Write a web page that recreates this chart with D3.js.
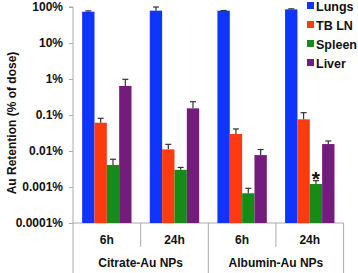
<!DOCTYPE html>
<html>
<head>
<meta charset="utf-8">
<script src="https://cdn.jsdelivr.net/npm/d3@7"></script>
<style>
  body { margin: 0; background: #fff; }
  text { font-family: Arial, "Liberation Sans", sans-serif; font-weight: bold; fill: #111; }
</style>
</head>
<body>
<svg id="chart" width="358" height="273"></svg>
<script>
const groups = ['Citrate 6h', 'Citrate 24h', 'Albumin 6h', 'Albumin 24h']
const timeLabels = ['6h', '24h', '6h', '24h']
const particleLabels = ['Citrate-Au NPs', 'Albumin-Au NPs']
const series = ['Lungs', 'TB LN', 'Spleen', 'Liver']
const colors = ['#0f35fb', '#fe3a10', '#178b17', '#741c7c']

// % of dose, per group, in series order
const lungs = [74, 79, 79, 86]
const tbln = [0.061, 0.0111, 0.0297, 0.076]
const spleen = [0.0041, 0.0030, 0.00067, 0.00121]
const liver = [0.64, 0.153, 0.0077, 0.0156]
// upper end of error bars
const lungsErr = [78, 100, 80, 89]
const tblnErr = [0.081, 0.0153, 0.041, 0.116]
const spleenErr = [0.0059, 0.0035, 0.00092, 0.0015]
const liverErr = [0.98, 0.234, 0.011, 0.019]

const yTicks = [100, 10, 1, 0.1, 0.01, 0.001, 0.0001]
const yTickLabels = ['100%', '10%', '1%', '0.1%', '0.01%', '0.001%', '0.0001%']

const values = [lungs, tbln, spleen, liver]
const errs = [lungsErr, tblnErr, spleenErr, liverErr]
const bars = []
groups.forEach((g, gi) => {
  series.forEach((s, si) => {
    bars.push({ group: g, series: s, value: values[si][gi], err: errs[si][gi], color: colors[si] })
  })
})

const svg = d3.select('#chart')
const mLeft = 73, mRight = 343.6, mTop = 7, mBottom = 223

const x = d3.scaleBand().domain(groups).range([mLeft, mRight]).padding(0)
const xs = d3.scaleBand().domain(series).range([0, x.bandwidth()])
  .paddingInner(0).paddingOuter(0.74)
const y = d3.scaleLog().domain([0.0001, 100]).range([mBottom, mTop])

// y axis
const yAxis = svg.append('g').attr('transform', `translate(${mLeft},0)`)
  .call(d3.axisLeft(y).tickValues(yTicks).tickSize(4)
    .tickFormat((d, i) => yTickLabels[i]))
yAxis.select('.domain').attr('stroke', '#aaa').attr('d', `M-4,${mTop}H0V273`)
yAxis.selectAll('.tick line').attr('stroke', '#aaa')
yAxis.selectAll('.tick text').attr('x', -10).attr('font-size', 12)
  .attr('font-family', 'Arial, "Liberation Sans", sans-serif').attr('font-weight', 'bold').attr('fill', '#111')

svg.append('text')
  .attr('transform', `translate(16,${(mTop + mBottom) / 2 + 8}) rotate(-90)`)
  .attr('text-anchor', 'middle').attr('font-size', 12)
  .text('Au Retention (% of dose)')

// category axis lines
svg.append('line').attr('x1', mLeft).attr('x2', mRight).attr('y1', mBottom).attr('y2', mBottom)
  .attr('stroke', '#aaa')
groups.forEach((g, i) => {
  const xr = x(g) + x.bandwidth()
  svg.append('line').attr('x1', xr).attr('x2', xr).attr('y1', mBottom)
    .attr('y2', i % 2 === 0 ? 247 : 273).attr('stroke', '#aaa')
})

svg.append('g').selectAll('text').data(groups).join('text')
  .attr('x', d => x(d) + x.bandwidth() / 2).attr('y', 244)
  .attr('text-anchor', 'middle').attr('font-size', 12)
  .text((d, i) => timeLabels[i])

svg.append('g').selectAll('text').data(particleLabels).join('text')
  .attr('x', (d, i) => x(groups[i * 2]) + x.bandwidth())
  .attr('y', 267).attr('text-anchor', 'middle').attr('font-size', 12)
  .text(d => d)

// bars
svg.append('g').selectAll('rect').data(bars).join('rect')
  .attr('x', d => x(d.group) + xs(d.series))
  .attr('width', xs.bandwidth())
  .attr('y', d => y(d.value))
  .attr('height', d => mBottom - y(d.value))
  .attr('fill', d => d.color)

// error bars
const eb = svg.append('g').attr('stroke', '#333').attr('stroke-width', 1.2)
bars.forEach(d => {
  const cx = x(d.group) + xs(d.series) + xs.bandwidth() / 2
  eb.append('line').attr('x1', cx).attr('x2', cx).attr('y1', y(d.value)).attr('y2', y(d.err))
  eb.append('line').attr('x1', cx - 3).attr('x2', cx + 3).attr('y1', y(d.err)).attr('y2', y(d.err))
})

// asterisk on Albumin 24h spleen
const ast = bars.find(d => d.group === 'Albumin 24h' && d.series === 'Spleen')
svg.append('text')
  .attr('x', x(ast.group) + xs(ast.series) + xs.bandwidth() / 2)
  .attr('y', y(ast.err) + 5).attr('text-anchor', 'middle').attr('font-size', 21)
  .text('*')

// legend
const lg = svg.append('g').selectAll('g').data(series).join('g')
  .attr('transform', (d, i) => `translate(307,${6 + i * 19})`)
lg.append('rect').attr('x', 0).attr('y', -4).attr('width', 7).attr('height', 7)
  .attr('fill', (d, i) => colors[i])
lg.append('text').attr('x', 9).attr('y', 4.5).attr('font-size', 12.5).text(d => d)
</script>
</body>
</html>
